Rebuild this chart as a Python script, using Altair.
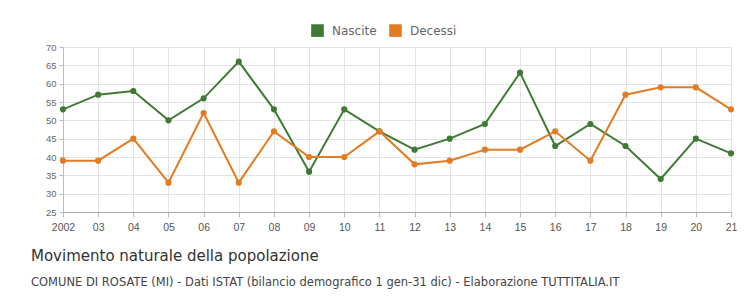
import altair as alt
import pandas as pd

years = list(range(2002, 2022))
nascite = [53, 57, 58, 50, 56, 66, 53, 36, 53, 47, 42, 45, 49, 63, 43, 49, 43, 34, 45, 41]
decessi = [39, 39, 45, 33, 52, 33, 47, 40, 40, 47, 38, 39, 42, 42, 47, 39, 57, 59, 59, 53]
series = ["Nascite", "Decessi"]
colors = ["#3f7a35", "#e37b22"]

df = pd.concat([
    pd.DataFrame({"anno": years, "valore": nascite, "serie": series[0]}),
    pd.DataFrame({"anno": years, "valore": decessi, "serie": series[1]}),
])

x = alt.X("anno:Q", scale=alt.Scale(domain=[2002, 2021], nice=False, zero=False),
          axis=alt.Axis(values=years, title=None, labelFlush=False,
                        labelExpr="datum.value == 2002 ? '2002' : slice(toString(datum.value), 2)",
                        labelFontSize=10.5, labelColor="#555", labelPadding=5,
                        tickSize=5, tickColor="#bbb", domainColor="#aaa", gridColor="#e3e3e3"))
y = alt.Y("valore:Q", scale=alt.Scale(domain=[25, 70], nice=False, zero=False),
          axis=alt.Axis(values=list(range(25, 71, 5)), title=None,
                        labelFontSize=9.5, labelColor="#666", labelPadding=3,
                        tickSize=4, tickColor="#bbb", domainColor="#bbb", gridColor="#e3e3e3"))
color = alt.Color("serie:N", scale=alt.Scale(domain=series, range=colors),
                  legend=alt.Legend(title=None, orient="none", legendX=248, legendY=-23,
                                    direction="horizontal", symbolType="square",
                                    symbolSize=160, symbolOpacity=1, symbolStrokeWidth=0,
                                    labelFont="DejaVu Sans", labelFontSize=12,
                                    labelColor="#666", columnPadding=12, labelOffset=8))

base = alt.Chart(df).encode(x=x, y=y, color=color)
lines = base.mark_line(strokeWidth=2)
points = base.mark_circle(size=38, opacity=1)

chart = alt.layer(lines, points).properties(
    width=668, height=165,
    title=alt.TitleParams(
        text="Movimento naturale della popolazione",
        subtitle="COMUNE DI ROSATE (MI) - Dati ISTAT (bilancio demografico 1 gen-31 dic) - Elaborazione TUTTITALIA.IT",
        orient="bottom", anchor="start", frame="group", dx=-32, offset=16,
        font="DejaVu Sans", fontSize=15, fontWeight="normal", color="#333",
        subtitleFont="DejaVu Sans", subtitleFontSize=11.5, subtitleColor="#444",
        subtitlePadding=13,
    ),
    autosize=alt.AutoSizeParams(type="none"),
    padding={"left": 55, "top": 39, "right": 7, "bottom": 84},
).configure(font="Liberation Sans").configure_view(stroke=None)

chart.save("out.html", embed_options={"renderer": "svg", "actions": False})
